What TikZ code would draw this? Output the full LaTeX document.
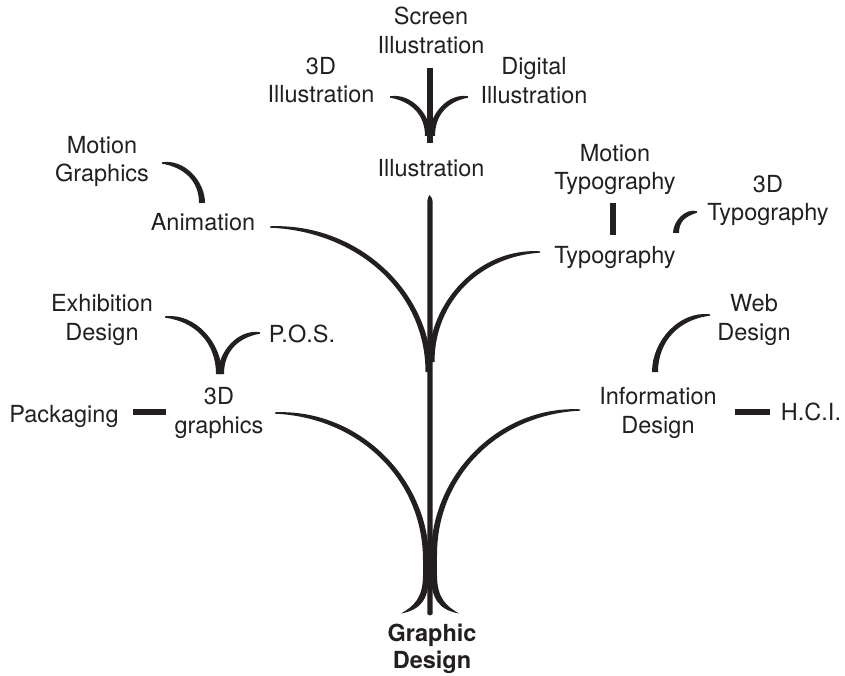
\documentclass[tikz,border=0pt]{standalone}
\usepackage{fontspec}
\usetikzlibrary{calc}
\setmainfont{TeX Gyre Heros}
\definecolor{ink}{RGB}{35,31,32}
% tapered brush arc: from #1 (horizontal tangent, thin tip) to #2 (vertical tangent, full width)
\newcommand\brusharc[2]{%
  \fill[ink] let \p1=(#1), \p2=(#2),
     \n1={sign(\x2-\x1)}, \n2={sign(\y1-\y2)},
     \n3={0.5523*(\x2-\x1)}, \n4={0.5523*(\y1-\y2)} in
     (\x1, {\y1+0.7pt*(\n2)})
     .. controls ({\x1+(\n3)*1pt}, {\y1+4.4pt*(\n2)}) and ({\x2+3pt*(\n1)}, {\y2+(\n4)*1pt}) ..
     ({\x2+3pt*(\n1)}, \y2)
     -- ({\x2-3pt*(\n1)}, \y2)
     .. controls ({\x2-3pt*(\n1)}, {\y2+(\n4)*1pt}) and ({\x1+(\n3)*1pt}, {\y1-4.4pt*(\n2)}) ..
     (\x1, {\y1-0.7pt*(\n2)}) -- cycle;}
\begin{document}
\begin{tikzpicture}[x=1pt,y=-1pt,
  lbl/.style={font=\fontsize{23.5}{28.5}\selectfont, text=ink, inner sep=0pt, align=center},
  brush/.style={draw=ink, line width=6pt, line cap=butt},
  flare/.style={fill=ink, draw=none}]
\useasboundingbox (0,0) rectangle (845,676);

% ---------- labels ----------
\node[lbl] (screen) at (431,30.5) {Screen\\Illustration};
\node[lbl] (threedill) at (321,80) {3D\\Illustration};
\node[lbl] (digital) at (534,80.5) {Digital\\Illustration};
\node[lbl,anchor=base] (illus) at (431,177) {Illustration};
\node[lbl] (motiongr) at (102,161.5) {Motion\\Graphics};
\node[lbl,anchor=base] (anim) at (203,230) {Animation};
\node[lbl] (motionty) at (615,169.5) {Motion\\Typography};
\node[lbl] (threedty) at (768,200.5) {3D\\Typography};
\node[lbl,anchor=base] (typo) at (615,263) {Typography};
\node[lbl] (exhib) at (102,320) {Exhibition\\Design};
\node[lbl,anchor=base] (pos) at (302,342) {P.O.S.};
\node[lbl] (web) at (754,320) {Web\\Design};
\node[lbl,anchor=base] (pack) at (64,422) {Packaging};
\node[lbl] (threedgr) at (219,413) {3D\\graphics};
\node[lbl] (info) at (658,413) {Information\\Design};
\node[lbl,anchor=base] (hci) at (811,420) {H.C.I.};
\node[lbl,font=\fontsize{23.5}{27}\selectfont\bfseries] (gd) at (432,649) {Graphic\\Design};

% ---------- coordinates ----------
\coordinate (animS) at (270,227);
\coordinate (animE) at (428.5,372);
\coordinate (typoS) at (540,252);
\coordinate (typoE) at (431.5,362);
\coordinate (grS) at (275,413);
\coordinate (grE) at (426,560);
\coordinate (infoS) at (580,410);
\coordinate (infoE) at (434,555);
\coordinate (illTop) at (430,68);
\coordinate (illBot) at (430,143);
\coordinate (illL) at (390,97);
\coordinate (illLE) at (428,136);
\coordinate (illR) at (468,97);
\coordinate (illRE) at (432,136);
\coordinate (mgS) at (162,163);
\coordinate (mgE) at (202,203);
\coordinate (exS) at (165,317);
\coordinate (vtipL) at (219,374);
\coordinate (vtipR) at (221,374);
\coordinate (posS) at (260,333);
\coordinate (packA) at (133,412);
\coordinate (packB) at (166,412);
\coordinate (mtA) at (613,203);
\coordinate (mtB) at (613,235);
\coordinate (tdS) at (697,212);
\coordinate (tdE) at (676,233);
\coordinate (webS) at (710,315);
\coordinate (webE) at (655,372);
\coordinate (hciA) at (735,412);
\coordinate (hciB) at (770,412);

% ---------- trunk (tapered top) ----------
\path[flare] (427.3,614) -- (427.3,203) .. controls (427.3,199) and (428.5,196) .. (429.5,195)
   .. controls (431.5,196.5) and (432.7,199) .. (432.7,204) -- (432.7,614)
   .. controls (431.5,616) and (428.5,616) .. cycle;

% ---------- main branches ----------
\brusharc{animS}{animE}
\brusharc{typoS}{typoE}
\brusharc{grS}{grE}
\brusharc{infoS}{infoE}
\path[flare] (423,559) rectangle (429,580);
\path[flare] (431,554) rectangle (437,580);
% root flares
\path[flare] (429,575) .. controls (429,600) and (420,610) .. (401,613.5)
   .. controls (414,606) and (423,598) .. (423,575) -- cycle;
\path[flare] (431,575) .. controls (431,600) and (440,610) .. (459,613.5)
   .. controls (446,606) and (437,598) .. (437,575) -- cycle;

% ---------- small branches ----------
\draw[brush] (illTop) -- (illBot);
\brusharc{illL}{illLE}
\brusharc{illR}{illRE}
\brusharc{mgS}{mgE}
\brusharc{exS}{vtipL}
\brusharc{posS}{vtipR}
\draw[brush] (packA) -- (packB);
\draw[brush] (mtA) -- (mtB);
\brusharc{tdS}{tdE}
\brusharc{webS}{webE}
\draw[brush] (hciA) -- (hciB);
\end{tikzpicture}
\end{document}
